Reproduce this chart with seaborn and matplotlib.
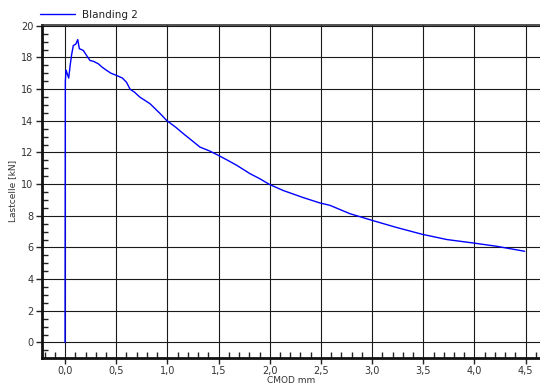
import matplotlib
matplotlib.use("Agg")
import matplotlib.pyplot as plt
from matplotlib.ticker import MultipleLocator, FuncFormatter
import seaborn as sns
import pandas as pd

# CMOD (mm) and load cell force (kN) for mix "Blanding 2"
cmod = [0.0, 0.001, 0.002, 0.003, 0.01, 0.02, 0.036, 0.05, 0.065, 0.081, 0.095,
        0.107, 0.124, 0.14, 0.16, 0.179, 0.21, 0.244, 0.28, 0.325, 0.36, 0.407,
        0.45, 0.505, 0.56, 0.6, 0.635, 0.68, 0.73, 0.83, 0.93, 0.993, 1.08,
        1.155, 1.24, 1.318, 1.41, 1.497, 1.59, 1.677, 1.807, 1.9, 1.995, 2.13,
        2.327, 2.49, 2.588, 2.78, 2.995, 3.24, 3.49, 3.73, 3.99, 4.21, 4.49]
force = [0.0, 6.0, 12.0, 16.5, 17.2, 17.0, 16.7, 17.5, 18.2, 18.76, 18.8,
         18.86, 19.13, 18.55, 18.5, 18.44, 18.13, 17.81, 17.75, 17.6, 17.4, 17.18,
         17.0, 16.86, 16.7, 16.44, 16.0, 15.8, 15.5, 15.08, 14.45, 14.02, 13.6,
         13.19, 12.75, 12.34, 12.1, 11.82, 11.5, 11.19, 10.66, 10.35, 9.99, 9.6,
         9.15, 8.81, 8.66, 8.14, 7.72, 7.26, 6.83, 6.5, 6.28, 6.08, 5.76]
series_name = "Blanding 2"

x_label = "CMOD mm"
y_label = "Lastcelle [kN]"

df = pd.DataFrame({"cmod": cmod, "force": force})

sns.set_style("white")
plt.rcParams["font.family"] = ["DejaVu Sans"]

fig = plt.figure(figsize=(5.4, 3.85), dpi=100)
ax = fig.add_axes([42 / 540, 1 - 357.5 / 385, 1 - 42 / 540, (357.5 - 25) / 385])

sns.lineplot(data=df, x="cmod", y="force", sort=False, estimator=None,
             color="#0000ff", linewidth=1.0, label=series_name, ax=ax)

ax.set_xlim(-0.225, 4.64)
ax.set_ylim(-0.95, 20.05)

ax.xaxis.set_major_locator(MultipleLocator(0.5))
ax.xaxis.set_minor_locator(MultipleLocator(0.1))
ax.yaxis.set_major_locator(MultipleLocator(2))
ax.yaxis.set_minor_locator(MultipleLocator(0.5))
ax.xaxis.set_major_formatter(FuncFormatter(lambda v, p: f"{v:.1f}".replace(".", ",")))
ax.yaxis.set_major_formatter(FuncFormatter(lambda v, p: f"{v:.0f}"))

ax.grid(True, which="major", color="#1a1a1a", linewidth=0.8)
ax.set_axisbelow(True)

ax.tick_params(axis="both", which="major", direction="out", length=4, width=1,
               color="#222222", labelsize=7, labelcolor="#333333", pad=2,
               left=True, bottom=True)
ax.tick_params(axis="both", which="minor", direction="in", length=4, width=1,
               color="#222222", left=True, bottom=True)

for side in ("left", "bottom"):
    ax.spines[side].set_visible(True)
    ax.spines[side].set_color("#111111")
    ax.spines[side].set_linewidth(2.0)
ax.spines["top"].set_visible(True)
ax.spines["top"].set_color("#333333")
ax.spines["top"].set_linewidth(1.2)
ax.spines["right"].set_visible(False)

ax.set_xlabel(x_label, fontsize=6.5, color="#333333", labelpad=0)
ax.set_ylabel(y_label, fontsize=6.5, color="#333333", labelpad=3)

ax.legend(loc="center left", bbox_to_anchor=(-0.004, 1.031), frameon=False,
          fontsize=7.5, handlelength=3.4, handletextpad=0.6, borderaxespad=0,
          borderpad=0.0, labelcolor="#222222")

fig.savefig("out.png", dpi=100)
